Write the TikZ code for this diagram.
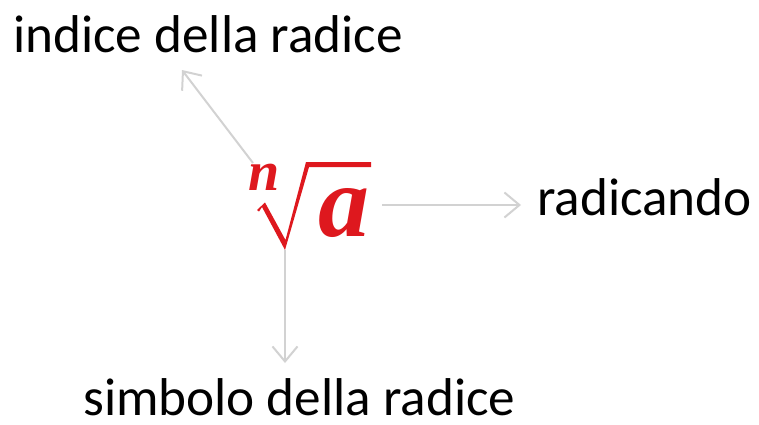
\documentclass[tikz,border=0pt]{standalone}
\usepackage{fontspec}
\setmainfont{Carlito}
\newfontfamily\rootfont{Liberation Serif}
\usetikzlibrary{arrows.meta}
\definecolor{rootred}{RGB}{222,24,30}
\definecolor{arrgray}{RGB}{210,210,210}
\tikzset{
  lbl/.style={inner sep=0pt, anchor=base west, font=\fontsize{53.2}{60}\selectfont, text=black},
  arr/.style={draw=arrgray, line width=2pt, -{Straight Barb[length=15pt,width=25pt,line width=2pt]}},
  rootpart/.style={inner sep=0pt, anchor=base west, text=rootred},
}
\begin{document}
\begin{tikzpicture}[x=1pt,y=-1pt]
\useasboundingbox (0,0) rectangle (759,424);
% labels
\node[lbl] (idx) at (13,52) {indice della radice};
\node[lbl] (rad) at (537,215) {radicando};
\node[lbl] (sym) at (83,415) {simbolo della radice};
% root expression
\node[rootpart, font=\rootfont\bfseries\itshape\fontsize{56}{56}\selectfont] (n) at (248,190) {n};
\node[rootpart, font=\rootfont\bfseries\itshape\fontsize{102}{102}\selectfont] (a) at (318,236) {a};
\coordinate (rs) at (285,250);
\fill[rootred] (257,210) -- (265,202.5) -- (285.5,240) -- (306,162) -- (371,162)
   -- (371,167) -- (309,167) -- (rs) -- (262,207) -- (259,211.5) -- cycle;
% connectors
\draw[arr] ([xshift=5pt,yshift=27pt]n.base west) -- ([xshift=169pt,yshift=-18pt]idx.base west);
\draw[arr] ([xshift=13pt,yshift=31pt]a.base east) -- ([xshift=-16pt,yshift=10pt]rad.base west);
\draw[arr] (rs) -- ([xshift=202pt,yshift=52pt]sym.base west);
\end{tikzpicture}
\end{document}
